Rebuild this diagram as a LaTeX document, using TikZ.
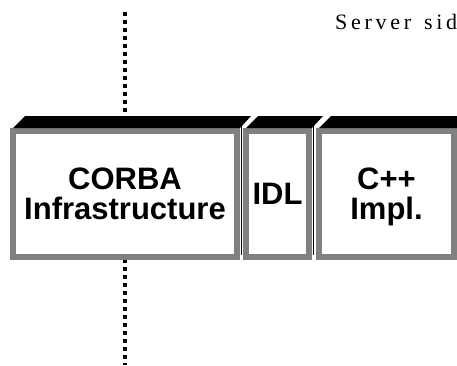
\documentclass[tikz,border=0pt]{standalone}
\usepackage{fontspec}
\setmainfont{Liberation Serif}
\newfontfamily\boxfont{Liberation Sans}
\newfontfamily\headfont{Liberation Serif}
\usetikzlibrary{calc}
\definecolor{framegray}{RGB}{128,128,128}
% extra room between the letters of the heading
\newcommand{\lsp}{\kern3.7pt}

\begin{document}
\begin{tikzpicture}[x=1pt, y=1pt,
    layer/.style={draw=framegray, line width=6pt, fill=white, minimum height=126pt,
        inner sep=0pt, align=center, text depth=0pt,
        font=\boxfont\bfseries\fontsize{31}{30}\selectfont},
    divider/.style={line width=4pt, dash pattern=on 4pt off 4pt}]
    \useasboundingbox (0,0) rectangle (457,365);
    \clip (0,0) rectangle (457,365);

    % dotted divider above and below the layers
    \draw[divider] (124.5,353) -- (124.5,249);
    \draw[divider] (124.5,106) -- (124.5,0);

    % the three layers
    \node[layer, minimum width=224pt] (corba) at (125,171) {CORBA\\Infrastructure};
    \node[layer, minimum width=63pt] (idl) at (277.5,171) {IDL};
    \node[layer, minimum width=135pt] (cpp) at (386.5,171) {C++\\Impl.};

    % black tops
    \foreach \b in {corba,idl,cpp}
        \fill ($(\b.north west)+(3,0)$) -- ++(12,12) -- ($(\b.north east)+(11,12)$) -- (\b.north east) -- cycle;

    % thin side edges
    \foreach \b in {corba,idl}
        \draw[line width=1pt] ($(\b.north east)+(1.5,12)$) -- ($(\b.south east)+(1.5,5)$);

    \node[anchor=base west, inner sep=0pt, font=\headfont\fontsize{22}{26}\selectfont] (side) at (335,335)
        {S\lsp e\lsp r\lsp v\lsp e\lsp r\lsp{} \lsp s\lsp i\lsp d};
\end{tikzpicture}
\end{document}
